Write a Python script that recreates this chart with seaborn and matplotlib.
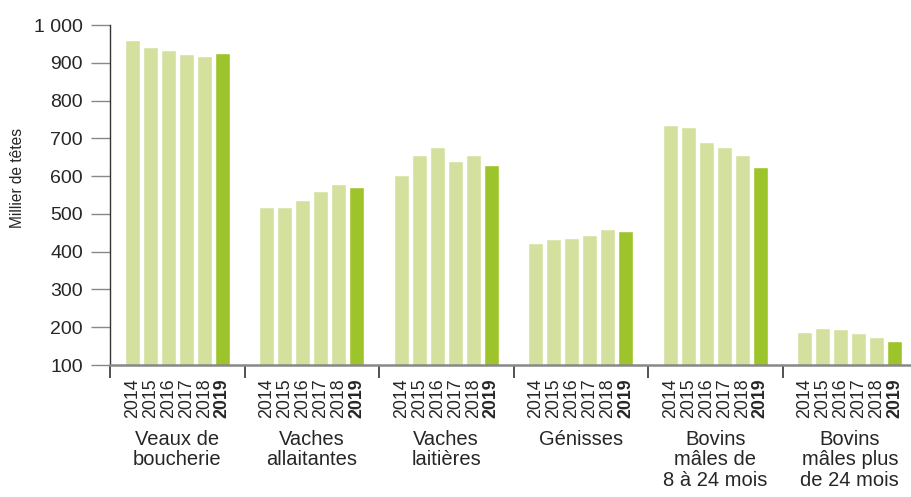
import numpy as np
import pandas as pd
import matplotlib.pyplot as plt
import seaborn as sns

# Cheptel bovin par catégorie, 2014-2019 (milliers de têtes)
categories = ["Veaux de\nboucherie", "Vaches\nallaitantes", "Vaches\nlaitières",
              "Génisses", "Bovins\nmâles de\n8 à 24 mois", "Bovins\nmâles plus\nde 24 mois"]
annees = ["2014", "2015", "2016", "2017", "2018", "2019"]

veaux = [959, 943, 935, 922, 919, 925]
allaitantes = [518, 518, 537, 561, 580, 571]
laitieres = [604, 655, 676, 641, 655, 630]
genisses = [423, 434, 436, 445, 461, 455]
males_8_24 = [734, 729, 689, 676, 657, 625]
males_24 = [188, 198, 195, 186, 175, 164]

valeurs = [veaux, allaitantes, laitieres, genisses, males_8_24, males_24]

rows = []
for cat, vals in zip(categories, valeurs):
    for an, v in zip(annees, vals):
        rows.append({"categorie": cat, "annee": an, "valeur": v})
df = pd.DataFrame(rows)

sns.set_style("white")
plt.rcParams["font.family"] = ["Liberation Sans", "DejaVu Sans"]

clair = "#d4e09e"
fonce = "#9dc42a"
palette = {an: clair for an in annees}
palette["2019"] = fonce

fig = plt.figure(figsize=(9.11, 4.97), dpi=100)
ax = fig.add_axes([110 / 911, 1 - 365 / 497, 1 - 110 / 911, 340 / 497])

sns.barplot(data=df, x="categorie", y="valeur", hue="annee", palette=palette,
            gap=0.17, width=0.8, legend=False, ax=ax, saturation=1)

ax.set_ylim(100, 1000)
ax.set_yticks(range(100, 1001, 100))
ax.set_yticklabels([f"{v:,}".replace(",", " ") for v in range(100, 1001, 100)], fontsize=14)
ax.tick_params(axis="y", direction="out", length=13.5, width=1, color="#888888", pad=6, left=True)
ax.set_ylabel("Millier de têtes", fontsize=11.2)
ax.yaxis.set_label_coords(-0.106, 0.55)

# séparateurs entre groupes sur l'axe x
ax.set_xlim(-0.5, 5.5 - 6 / 134.5)
ax.set_xticks(np.arange(-0.5, 5.5, 1))
ax.set_xticklabels([])
ax.tick_params(axis="x", direction="out", length=9, width=1.2, color="#333333", bottom=True)
ax.set_xlabel("")

for s in ["top", "right"]:
    ax.spines[s].set_visible(False)
ax.spines["left"].set_color("#333333")
ax.spines["left"].set_linewidth(1)
ax.spines["bottom"].set_color("#888888")
ax.spines["bottom"].set_linewidth(1.8)

trans = ax.get_xaxis_transform()
pas = 0.8 / len(annees)
for i, cat in enumerate(categories):
    for j, an in enumerate(annees):
        x = i + (j - 2.5) * pas
        ax.text(x, -0.038, an, transform=trans, rotation=90, ha="center", va="top",
                fontsize=12.8, fontweight="bold" if an == "2019" else "normal")
    ax.text(i, -0.19, cat, transform=trans, ha="center", va="top", fontsize=14.5,
            linespacing=1.1)

fig.savefig("out.png", dpi=100)
